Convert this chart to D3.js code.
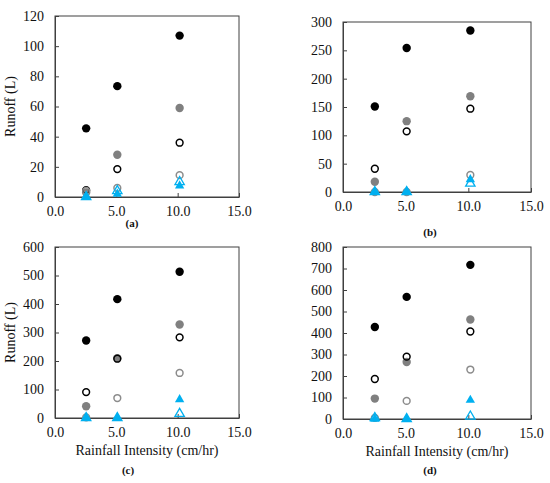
<!DOCTYPE html>
<html>
<head>
<meta charset="utf-8">
<script src="https://cdn.jsdelivr.net/npm/d3@7"></script>
<style>
  body { margin: 0; background: #fff; }
  svg { display: block; font-family: "Liberation Serif", "Times New Roman", serif; }
</style>
</head>
<body>
<svg id="chart" width="550" height="483"></svg>
<script>
'use strict';

// rainfall intensities (cm/hr)
var intensity = [2.54, 5.08, 10.16];
var xTicks = [0, 5, 10, 15];

// runoff (L) per panel, one array per series
var aBlackFilled = [45.5, 73.5, 107];
var aGrayFilled  = [3, 28, 59];
var aBlackOpen   = [4.5, 18.5, 36];
var aGrayOpen    = [4, 6, 14.5];
var aBlueFilled  = [0, 2, 7.5];
var aBlueOpen    = [0, 4, 10];

var bBlackFilled = [151, 254, 285];
var bGrayFilled  = [18, 125, 169];
var bBlackOpen   = [41, 107, 147];
var bGrayOpen    = [0, 0, 30];
var bBlueFilled  = [0, 1, 22];
var bBlueOpen    = [0, 0, 15];

var cBlackFilled = [272, 417, 513];
var cGrayFilled  = [41, 210, 328];
var cBlackOpen   = [91, 208, 283];
var cGrayOpen    = [2, 70, 158];
var cBlueFilled  = [0, 0, 65];
var cBlueOpen    = [0, 0, 15];

var dBlackFilled = [428, 568, 717];
var dGrayFilled  = [95, 265, 463];
var dBlackOpen   = [186, 290, 407];
var dGrayOpen    = [5, 84, 230];
var dBlueFilled  = [0, 0, 88];
var dBlueOpen    = [5, 0, 12];

var aTicks = [0, 20, 40, 60, 80, 100, 120];
var bTicks = [0, 50, 100, 150, 200, 250, 300];
var cTicks = [0, 100, 200, 300, 400, 500, 600];
var dTicks = [0, 100, 200, 300, 400, 500, 600, 700, 800];

var styles = [
  {shape: 'circle', fill: '#000', stroke: '#000'},
  {shape: 'circle', fill: '#808080', stroke: '#808080'},
  {shape: 'circle', fill: 'none', stroke: '#000'},
  {shape: 'circle', fill: 'none', stroke: '#8c8c8c'},
  {shape: 'tri', fill: '#00b0f0', stroke: '#00b0f0'},
  {shape: 'tri', fill: 'none', stroke: '#00b0f0'}
];

var panels = [
  {tag: '(a)', box: [55, 239, 16, 197], ticks: aTicks, ylabel: true, xlabel: false,
   tagPos: [132, 227], series: [aBlackFilled, aGrayFilled, aBlackOpen, aGrayOpen, aBlueFilled, aBlueOpen]},
  {tag: '(b)', box: [343, 531, 22, 192], ticks: bTicks, ylabel: false, xlabel: false,
   tagPos: [430, 236], series: [bBlackFilled, bGrayFilled, bBlackOpen, bGrayOpen, bBlueFilled, bBlueOpen]},
  {tag: '(c)', box: [55, 239, 247, 418], ticks: cTicks, ylabel: true, xlabel: true,
   tagPos: [128, 474], series: [cBlackFilled, cGrayFilled, cBlackOpen, cGrayOpen, cBlueFilled, cBlueOpen]},
  {tag: '(d)', box: [343, 531, 247, 419], ticks: dTicks, ylabel: false, xlabel: true,
   tagPos: [430, 474], series: [dBlackFilled, dGrayFilled, dBlackOpen, dGrayOpen, dBlueFilled, dBlueOpen]}
];

var svg = d3.select('#chart');
var tri = d3.symbol().type(d3.symbolTriangle).size(38);
var serif = '"Liberation Serif", "Times New Roman", serif';

function drawPanel(p) {
  var x0 = p.box[0], x1 = p.box[1], y0 = p.box[2], y1 = p.box[3];
  var x = d3.scaleLinear().domain([0, 15]).range([x0, x1]);
  var y = d3.scaleLinear().domain([0, d3.max(p.ticks)]).range([y1, y0]);
  var g = svg.append('g');

  g.append('rect')
    .attr('x', x0).attr('y', y0)
    .attr('width', x1 - x0).attr('height', y1 - y0)
    .attr('fill', 'none').attr('stroke', '#404040').attr('stroke-width', 1);

  var xAxis = d3.axisBottom(x).tickValues(xTicks).tickSizeInner(-4).tickSizeOuter(0)
    .tickPadding(9).tickFormat(d3.format('.1f'));
  var gx = g.append('g').attr('transform', `translate(0,${y1})`).call(xAxis);

  var yAxis = d3.axisLeft(y).tickValues(p.ticks).tickSizeInner(-4).tickSizeOuter(0)
    .tickPadding(11).tickFormat(d3.format('d'));
  var gy = g.append('g').attr('transform', `translate(${x0},0)`).call(yAxis);

  [gx, gy].forEach(function(a) {
    a.attr('font-family', serif).attr('font-size', 14);
    a.select('.domain').attr('stroke', '#404040');
    a.selectAll('.tick line').attr('stroke', '#404040');
    a.selectAll('.tick text').attr('fill', '#111');
  });

  p.series.forEach(function(vals, i) {
    var st = styles[i];
    var pts = vals.map(function(v, j) { return {x: intensity[j], y: v}; });
    if (st.shape === 'circle') {
      g.selectAll(null).data(pts).enter().append('circle')
        .attr('cx', function(d) { return x(d.x); })
        .attr('cy', function(d) { return y(d.y); })
        .attr('r', st.fill === 'none' ? 3.4 : 4.2)
        .attr('fill', st.fill).attr('stroke', st.stroke)
        .attr('stroke-width', st.fill === 'none' ? 1.5 : 0);
    } else {
      g.selectAll(null).data(pts).enter().append('path')
        .attr('d', tri)
        .attr('transform', function(d) { return `translate(${x(d.x)},${y(d.y)})`; })
        .attr('fill', st.fill).attr('stroke', st.stroke)
        .attr('stroke-width', st.fill === 'none' ? 1.3 : 0);
    }
  });

  if (p.ylabel) {
    g.append('text')
      .attr('transform', `translate(${x0 - 40},${(y0 + y1) / 2}) rotate(-90)`)
      .attr('text-anchor', 'middle')
      .attr('fill', '#111')
      .attr('font-family', serif).attr('font-size', 14)
      .text('Runoff (L)');
  }
  if (p.xlabel) {
    g.append('text')
      .attr('x', (x0 + x1) / 2).attr('y', y1 + 37)
      .attr('text-anchor', 'middle')
      .attr('fill', '#111')
      .attr('font-family', serif).attr('font-size', 14)
      .text('Rainfall Intensity (cm/hr)');
  }
  g.append('text')
    .attr('x', p.tagPos[0]).attr('y', p.tagPos[1])
    .attr('text-anchor', 'middle')
    .attr('fill', '#111')
    .attr('font-family', serif).attr('font-size', 11).attr('font-weight', 'bold')
    .text(p.tag);
}

panels.forEach(drawPanel);
</script>
</body>
</html>
